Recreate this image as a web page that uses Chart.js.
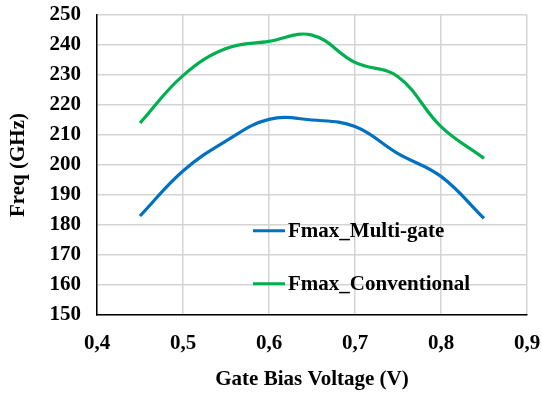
<!DOCTYPE html>
<html>
<head>
<meta charset="utf-8">
<script src="https://cdn.jsdelivr.net/npm/chart.js@4/dist/chart.umd.min.js"></script>
<style>
  html, body { margin: 0; padding: 0; background: #fff; }
  #wrap { width: 542px; height: 395px; position: relative; }
</style>
</head>
<body>
<div id="wrap"><canvas id="myChart" width="542" height="395"></canvas></div>
<script>
// values
const voltages = [0.45, 0.5, 0.55, 0.6, 0.65, 0.7, 0.75, 0.8, 0.85];
const multiGate = [183, 198, 208, 215.2, 215, 212.8, 203.8, 196.2, 182.2];
const conventional = [214, 229.8, 238.8, 241.2, 243.3, 234.2, 229.4, 212.8, 202.2];
const xTicks = [0.4, 0.5, 0.6, 0.7, 0.8, 0.9];

const FONT = 'Liberation Serif, Times New Roman, serif';
const FSIZE = 21;

function toPoints(ys) {
  return voltages.map((v, i) => ({ x: v, y: ys[i] }));
}

// legend drawn inside the plot area, like the original
const innerLegend = {
  id: 'innerLegend',
  afterDraw(chart) {
    const ctx = chart.ctx;
    const x0 = chart.scales.x.getPixelForValue(0.5814);
    const rows = [178.1, 160.4];
    ctx.save();
    ctx.font = 'bold ' + FSIZE + 'px ' + FONT;
    ctx.textBaseline = 'middle';
    chart.data.datasets.forEach((ds, i) => {
      const y = chart.scales.y.getPixelForValue(rows[i]);
      ctx.strokeStyle = ds.borderColor;
      ctx.lineWidth = 3;
      ctx.beginPath();
      ctx.moveTo(x0, y);
      ctx.lineTo(x0 + 32, y);
      ctx.stroke();
      ctx.fillStyle = '#000';
      ctx.fillText(ds.label, x0 + 35, y + 1);
    });
    ctx.restore();
  }
};

const ctx = document.getElementById('myChart').getContext('2d');
new Chart(ctx, {
  type: 'line',
  data: {
    datasets: [
      {
        label: 'Fmax_Multi-gate',
        data: toPoints(multiGate),
        borderColor: '#0070C0',
        borderWidth: 3.2,
        pointRadius: 0,
        tension: 0.4,
        fill: false,
      },
      {
        label: 'Fmax_Conventional',
        data: toPoints(conventional),
        borderColor: '#00B050',
        borderWidth: 3.2,
        pointRadius: 0,
        tension: 0.4,
        fill: false,
      },
    ],
  },
  options: {
    responsive: false,
    animation: false,
    devicePixelRatio: 1,
    layout: { padding: { left: 0, right: 15, top: 15, bottom: 0 } },
    plugins: {
      legend: { display: false },
      tooltip: { enabled: false },
    },
    scales: {
      x: {
        type: 'linear',
        min: 0.4,
        max: 0.9,
        afterBuildTicks: (scale) => { scale.ticks = xTicks.map(v => ({ value: v })); },
        afterFit: (scale) => {
          scale.height = 80;
          scale.paddingLeft = 0;
          scale.paddingRight = 0;
        },
        ticks: {
          padding: 16,
          color: '#000',
          font: { family: FONT, size: FSIZE, weight: 'bold' },
          callback: (v) => v.toFixed(1).replace('.', ','),
        },
        grid: { color: '#d4d4d4', lineWidth: 1.5, drawTicks: false },
        border: { color: '#000', width: 1.5 },
        title: {
          display: true,
          text: 'Gate Bias Voltage (V)',
          color: '#000',
          font: { family: FONT, size: FSIZE, weight: 'bold' },
          padding: { top: 4, bottom: 3 },
        },
      },
      y: {
        min: 150,
        max: 250,
        afterFit: (scale) => {
          scale.width = 97;
          scale.paddingTop = 0;
          scale.paddingBottom = 0;
        },
        ticks: {
          stepSize: 10,
          padding: 16,
          color: '#000',
          font: { family: FONT, size: FSIZE, weight: 'bold' },
        },
        grid: { color: '#d4d4d4', lineWidth: 1.5, drawTicks: false },
        border: { color: '#000', width: 1.5 },
        title: {
          display: true,
          text: 'Freq (GHz)',
          color: '#000',
          font: { family: FONT, size: FSIZE, weight: 'bold' },
          padding: { top: 6, bottom: 4 },
        },
      },
    },
  },
  plugins: [innerLegend],
});
</script>
</body>
</html>
